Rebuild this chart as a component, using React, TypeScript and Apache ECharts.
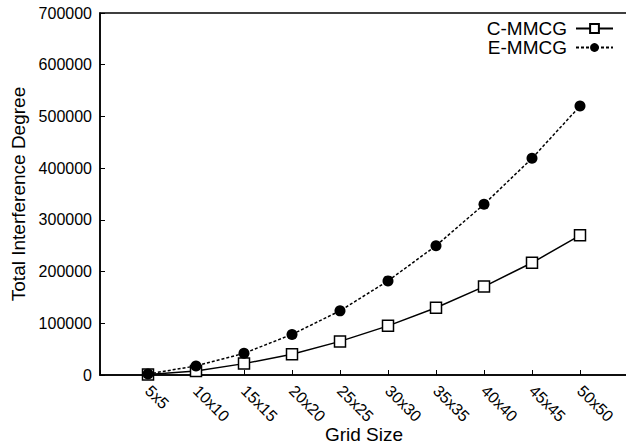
import React, { useEffect, useRef } from "react";
import * as echarts from "echarts";

const categories = ["5x5", "10x10", "15x15", "20x20", "25x25", "30x30", "35x35", "40x40", "45x45", "50x50"];
const cMmcg = [1000, 7800, 22000, 40000, 65000, 95000, 130000, 171000, 217000, 270000];
const eMmcg = [2000, 17500, 42000, 78500, 124000, 182000, 250000, 330000, 419000, 520000];
const seriesNames = ["C-MMCG", "E-MMCG"];

const FONT = "'Liberation Sans', Arial, Helvetica, sans-serif";

export default function App() {
  const ref = useRef<HTMLDivElement>(null);
  useEffect(() => {
    document.body.style.margin = "0";
    if (!ref.current) return;
    const chart = echarts.init(ref.current, null, { renderer: "svg" });
    const toPts = (arr: number[]) => arr.map((v, i) => [i + 1, v]);
    chart.setOption({
      animation: false,
      backgroundColor: "#fff",
      textStyle: { fontFamily: FONT, color: "#000" },
      grid: {
        left: 100,
        top: 13,
        right: -2,
        bottom: 69,
        show: true,
        borderColor: "#000",
        borderWidth: 1.5,
        containLabel: false,
        outerBoundsMode: "none",
      },
      legend: {
        orient: "vertical",
        right: 7,
        top: 14,
        align: "right",
        itemWidth: 37,
        itemHeight: 11,
        itemGap: 0,
        textStyle: { fontFamily: FONT, fontSize: 19, color: "#000", lineHeight: 15, padding: [0, 4, 0, 0] },
        data: seriesNames,
      },
      xAxis: {
        type: "value",
        min: 0,
        max: 11,
        interval: 1,
        name: "Grid Size",
        nameLocation: "middle",
        nameGap: 50,
        nameMoveOverlap: false,
        nameTextStyle: { fontFamily: FONT, fontSize: 19, lineHeight: 19, color: "#000" },
        splitLine: { show: false },
        axisLine: { lineStyle: { color: "#000", width: 1.5 } },
        axisTick: { inside: true, length: 5, lineStyle: { color: "#000", width: 1 } },
        axisLabel: {
          rotate: -45,
          margin: 13,
          fontFamily: FONT,
          fontSize: 16,
          color: "#000",
          formatter: (v: number) => {
            const i = Math.round(v) - 1;
            return Math.abs(v - Math.round(v)) < 1e-6 && i >= 0 && i < categories.length ? categories[i] : "";
          },
        },
      },
      yAxis: {
        type: "value",
        min: 0,
        max: 700000,
        interval: 100000,
        name: "Total Interference Degree",
        nameLocation: "middle",
        nameGap: 72,
        nameMoveOverlap: false,
        nameTextStyle: { fontFamily: FONT, fontSize: 19, color: "#000" },
        splitLine: { show: false },
        axisLine: { show: true, lineStyle: { color: "#000", width: 1.5 } },
        axisTick: { show: true, inside: true, length: 5, lineStyle: { color: "#000", width: 1 } },
        axisLabel: {
          margin: 8,
          fontFamily: FONT,
          fontSize: 16,
          color: "#000",
          formatter: (v: number) => String(v),
        },
      },
      series: [
        {
          name: seriesNames[0],
          type: "line",
          data: toPts(cMmcg),
          symbol: "rect",
          symbolSize: 11,
          showAllSymbol: true,
          lineStyle: { color: "#000", width: 1.5, type: "solid" },
          itemStyle: { color: "#fff", borderColor: "#000", borderWidth: 1.5 },
          z: 2,
        },
        {
          name: seriesNames[1],
          type: "line",
          data: toPts(eMmcg),
          symbol: "circle",
          symbolSize: 11,
          showAllSymbol: true,
          lineStyle: { color: "#000", width: 1.5, type: [3, 2] },
          itemStyle: { color: "#000", borderColor: "#000", borderWidth: 0 },
          z: 3,
        },
      ],
    });
    return () => chart.dispose();
  }, []);
  return <div ref={ref} style={{ width: 626, height: 444 }} />;
}
